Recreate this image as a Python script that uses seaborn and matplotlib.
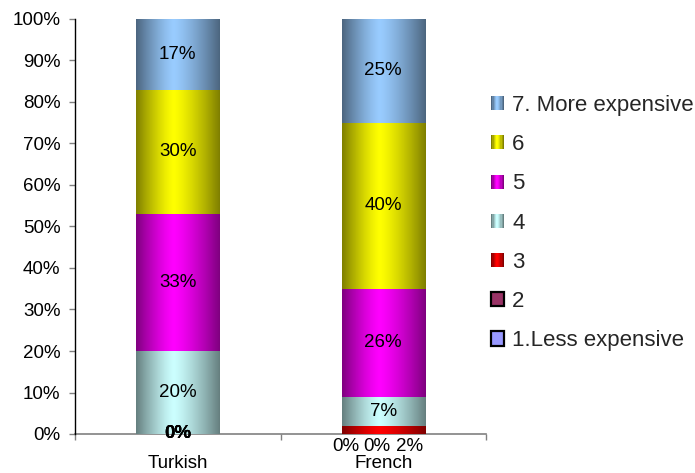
import numpy as np
import pandas as pd
import matplotlib
matplotlib.use("Agg")
import matplotlib.pyplot as plt
import matplotlib.colors as mcolors
import seaborn as sns
from matplotlib.patches import Rectangle, Patch
from matplotlib.legend_handler import HandlerBase
from matplotlib.ticker import FixedLocator, FuncFormatter

# ---- data -------------------------------------------------------------
groups = ["Turkish", "French"]
levels = ["1.Less expensive", "2", "3", "4", "5", "6", "7. More expensive"]
turkish = [0, 0, 0, 20, 33, 30, 17]
french = [0, 0, 2, 7, 26, 40, 25]
level_colors = ["#9999ff", "#993366", "#ff0000", "#ccffff",
                "#ff00ff", "#ffff00", "#99ccff"]
legend_edges = ["black", "black", None, None, None, None, None]
y_ticks = [0, 10, 20, 30, 40, 50, 60, 70, 80, 90, 100]

sns.set_theme(style="white")
plt.rcParams["font.family"] = ["Liberation Sans", "DejaVu Sans"]

TEXT = 13.5
BAR_W = 0.404


def shade(color, n=96, peak=0.45, depth=0.5):
    """Cylinder-style horizontal shading: light core, darker edges."""
    rgb = np.array(mcolors.to_rgb(color))
    t = np.linspace(0, 1, n)
    s = np.where(t < peak, (peak - t) / peak, (t - peak) / (1 - peak))
    f = 1 - depth * s ** 1.3
    return np.clip(rgb[None, :] * f[:, None], 0, 1)


class GradientHandler(HandlerBase):
    def __init__(self, color, edge=None):
        super().__init__()
        self.color = color
        self.edge = edge

    def create_artists(self, legend, orig_handle, xdescent, ydescent,
                       width, height, fontsize, trans):
        if self.edge is not None:
            return [Rectangle((-xdescent, -ydescent), width, height,
                              facecolor=self.color, edgecolor=self.edge,
                              lw=1.6, transform=trans)]
        cols = shade(self.color, n=10)
        w = width / len(cols)
        return [Rectangle((-xdescent + k * w, -ydescent), w * 1.08, height,
                          facecolor=c, edgecolor="none", lw=0,
                          transform=trans)
                for k, c in enumerate(cols)]


df = pd.DataFrame({"level": np.repeat(levels, 2),
                   "group": groups * len(levels),
                   "value": np.ravel(np.column_stack([turkish, french]))})

fig = plt.figure(figsize=(6.95, 4.73), dpi=100)
ax = fig.add_axes([75 / 695, 1 - 434 / 473, 411 / 695, 415 / 473])

# stacked bars, one layer per answer level
bottoms = np.zeros(len(groups))
segments = []
for lev, col in zip(levels, level_colors):
    sub = df[df["level"] == lev]
    vals = sub["value"].to_numpy(dtype=float)
    n_before = len(ax.patches)
    sns.barplot(data=sub, x="group", y="value", order=groups, color=col,
                saturation=1, width=BAR_W, bottom=bottoms.copy(),
                linewidth=0, errorbar=None, ax=ax)
    for gi, p in enumerate(ax.patches[n_before:]):
        segments.append((p, col, gi, bottoms[gi], vals[gi]))
    bottoms = bottoms + vals

ax.set_xlim(-0.5, 1.5)
ax.set_ylim(0, 100)

# gradient overlay clipped to every segment
for p, col, gi, b, v in segments:
    if v <= 0:
        continue
    x0 = p.get_x()
    w = p.get_width()
    img = shade(col)[None, :, :]
    im = ax.imshow(img, extent=(x0, x0 + w, b, b + v), aspect="auto",
                   interpolation="bilinear", zorder=p.get_zorder() + 0.1)
    im.set_clip_path(p)

ax.set_xlim(-0.5, 1.5)
ax.set_ylim(0, 100)

# value labels
below_offsets = [-37, -6, 26]   # px, for thin French segments below the axis
for li, lev in enumerate(levels):
    for gi, g in enumerate(groups):
        v = [turkish, french][gi][li]
        b = sum([turkish, french][gi][:li])
        label = f"{v:g}%"
        if gi == 1 and v < 5:
            ax.annotate(label, xy=(gi, 0), xytext=(below_offsets[li] * 0.72, -9),
                        textcoords="offset points", ha="center", va="center",
                        fontsize=TEXT, color="black", annotation_clip=False)
        else:
            ax.text(gi, b + v / 2, label, ha="center", va="center",
                    fontsize=TEXT, color="black", zorder=10, clip_on=False,
                    fontweight="bold" if v == 0 else "normal")

# axes styling
for side in ("top", "right"):
    ax.spines[side].set_visible(False)
ax.spines["left"].set_color("black")
ax.spines["left"].set_linewidth(1.0)
ax.spines["bottom"].set_color("#808080")
ax.spines["bottom"].set_linewidth(1.2)
ax.spines["bottom"].set_zorder(0.5)

ax.yaxis.set_major_locator(FixedLocator(y_ticks))
ax.yaxis.set_major_formatter(FuncFormatter(lambda v, _: f"{v:.0f}%"))
ax.tick_params(axis="y", which="major", left=True, direction="out",
               length=4.5, width=1, color="#808080", labelsize=TEXT,
               labelcolor="black", pad=6)

ax.set_xticks([0, 1])
ax.set_xticklabels(groups)
ax.xaxis.set_minor_locator(FixedLocator([-0.5, 0.5, 1.5]))
ax.tick_params(axis="x", which="major", bottom=True, length=0,
               labelsize=TEXT, labelcolor="black", pad=15)
ax.tick_params(axis="x", which="minor", bottom=True, direction="out",
               length=4.5, width=1, color="#808080")
ax.set_xlabel("")
ax.set_ylabel("")

# legend, highest level first
handles, hmap = [], {}
for lev, col, edge in reversed(list(zip(levels, level_colors, legend_edges))):
    h = Patch(facecolor=col, label=lev)
    handles.append(h)
    hmap[h] = GradientHandler(col, edge)
fig.legend(handles=handles, handler_map=hmap, loc="upper left",
           bbox_to_anchor=(491 / 695, 1 - 95 / 473), frameon=False,
           fontsize=16, handlelength=0.6, handleheight=0.6,
           handletextpad=0.35, labelspacing=0.82, borderpad=0,
           borderaxespad=0)

fig.savefig("out.png", dpi=100)
